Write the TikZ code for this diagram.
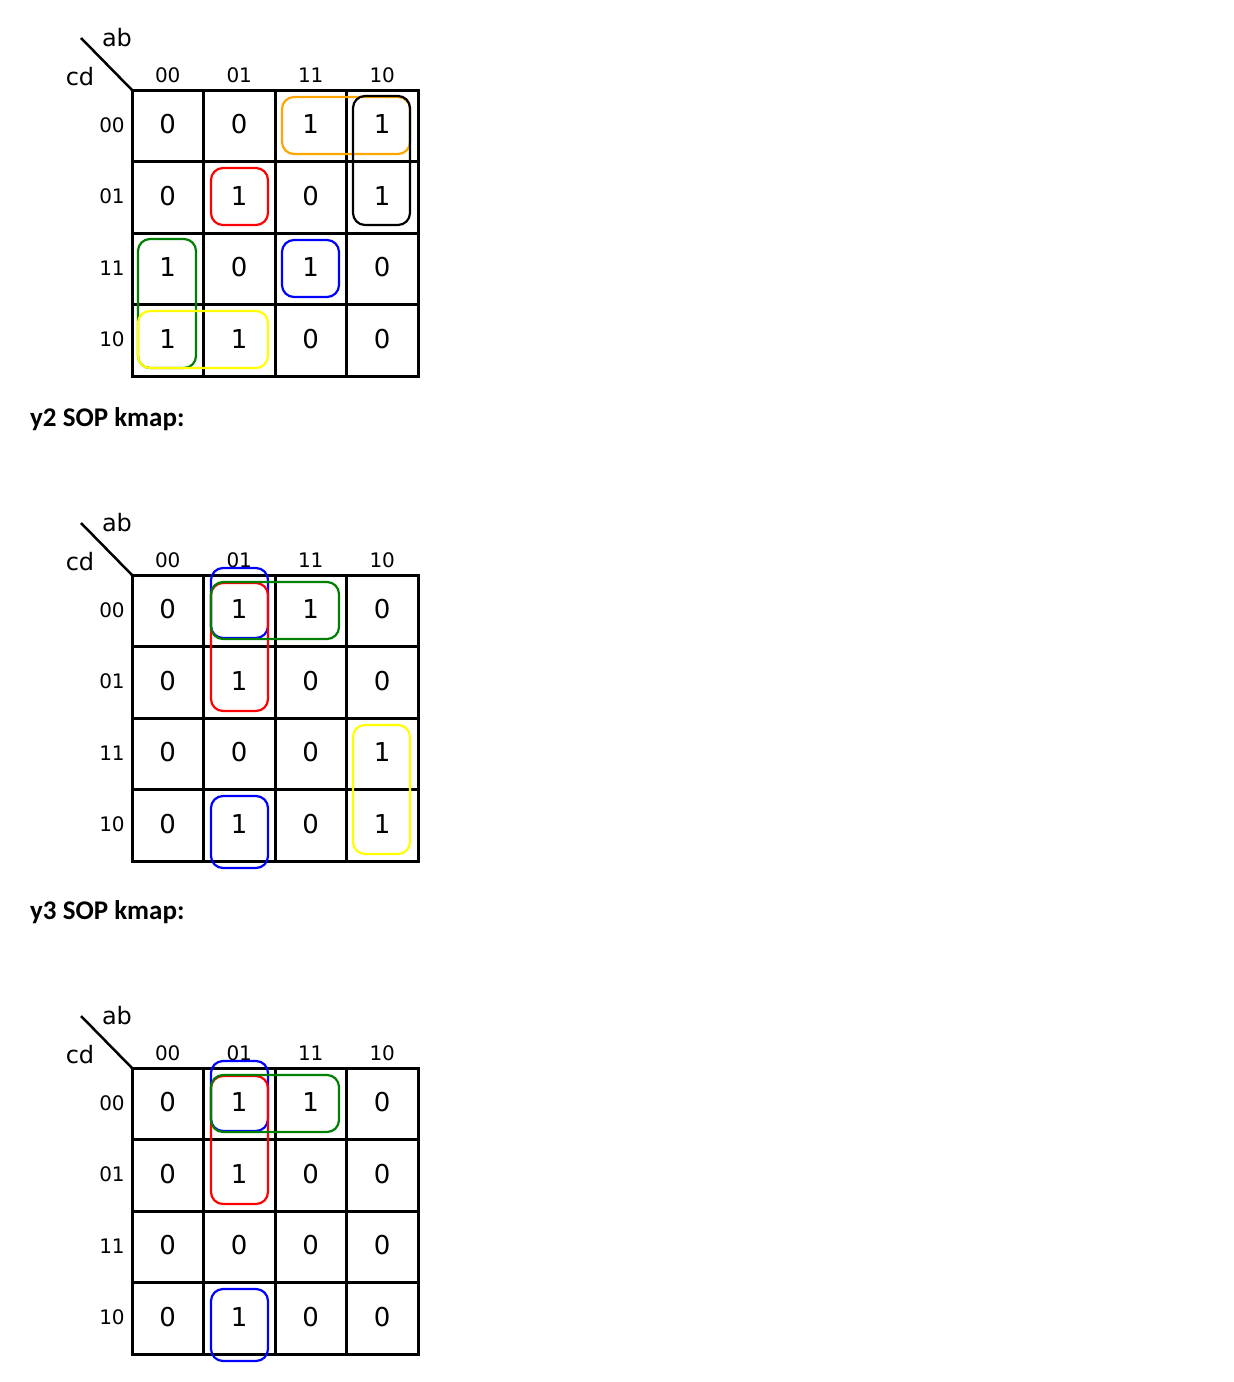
\documentclass[tikz,border=0pt]{standalone}
\usepackage{fontspec}
\setmainfont{DejaVu Sans}
\newfontfamily\calib{Carlito}
\definecolor{gorange}{RGB}{255,165,0}
\definecolor{ggreen}{RGB}{0,128,0}
\definecolor{gyellow}{RGB}{255,255,0}
\definecolor{gred}{RGB}{255,0,0}
\definecolor{gblue}{RGB}{0,0,255}
\newcommand\kmapframe{%
  \draw[gridline] (132,90) rectangle (418,376);
  \foreach \xx in {203.5,275,346.5} \draw[gridline] (\xx,90) -- (\xx,376);
  \foreach \yy in {161.5,233,304.5} \draw[gridline] (132,\yy) -- (418,\yy);
  \coordinate (corner) at (132,90);
  \coordinate (diagend) at (81,38);
  \draw[line width=2.5] (corner) -- (diagend);
  \node[axlab] (ab) at (117,38) {ab};
  \node[axlab] (cd) at (80,77) {cd};
  \foreach \lab [count=\i from 0] in {00,01,11,10} {
    \node[collab] (col\i) at ({167.75+71.5*\i},75) {\lab};
    \node[collab] (row\i) at (112,{125+71.5*\i}) {\lab};
  }
}
\newcommand\kmaprow[2]{%
  \foreach \v [count=\i from 0] in {#2} {
    \node[cellval] (c#1\i) at ({167.75+71.5*\i},{124.5+71.5*#1}) {\v};
  }
}
\begin{document}
\begin{tikzpicture}[x=1pt,y=-1pt,
  gridline/.style={line width=3, line cap=rect},
  grp/.style={line width=2.2, rounded corners=12},
  cellval/.style={font=\fontsize{26}{26}\selectfont, inner sep=0pt},
  collab/.style={font=\fontsize{20}{20}\selectfont, inner sep=0pt},
  axlab/.style={font=\fontsize{24}{24}\selectfont, inner sep=0pt},
  title/.style={font=\calib\bfseries\fontsize{27}{27}\selectfont, inner sep=0pt, anchor=base west}]
\useasboundingbox (0,0) rectangle (1234,1382);
% ---- map 1
\begin{scope}[name prefix=a-]
  \kmapframe
  \kmaprow{0}{0,0,1,1}
  \kmaprow{1}{0,1,0,1}
  \kmaprow{2}{1,0,1,0}
  \kmaprow{3}{1,1,0,0}
  \draw[grp, gorange] (282,97) rectangle (410,154);
  \draw[grp, black] (353,96) rectangle (410,225);
  \draw[grp, gred] (211,168) rectangle (268,225);
  \draw[grp, gblue] (282,240) rectangle (339,297);
  \draw[grp, ggreen] (138,239) rectangle (196,368);
  \draw[grp, gyellow] (138,311) rectangle (268,368);
\end{scope}
\node[title] (t2) at (30,426) {y2 SOP kmap:};
% ---- map 2
\begin{scope}[yshift=-485pt, name prefix=b-]
  \kmapframe
  \kmaprow{0}{0,1,1,0}
  \kmaprow{1}{0,1,0,0}
  \kmaprow{2}{0,0,0,1}
  \kmaprow{3}{0,1,0,1}
  \draw[grp, gblue] (211,83) rectangle (268,153);
  \draw[grp, gred] (211,98) rectangle (268,226);
  \draw[grp, ggreen] (211,97) rectangle (339,154);
  \draw[grp, gyellow] (353,240) rectangle (410,369);
  \draw[grp, gblue] (211,311) rectangle (268,383);
\end{scope}
\node[title] (t3) at (30,919) {y3 SOP kmap:};
% ---- map 3
\begin{scope}[yshift=-978pt, name prefix=c-]
  \kmapframe
  \kmaprow{0}{0,1,1,0}
  \kmaprow{1}{0,1,0,0}
  \kmaprow{2}{0,0,0,0}
  \kmaprow{3}{0,1,0,0}
  \draw[grp, gblue] (211,83) rectangle (268,153);
  \draw[grp, gred] (211,98) rectangle (268,226);
  \draw[grp, ggreen] (211,97) rectangle (339,154);
  \draw[grp, gblue] (211,311) rectangle (268,383);
\end{scope}
\end{tikzpicture}
\end{document}
